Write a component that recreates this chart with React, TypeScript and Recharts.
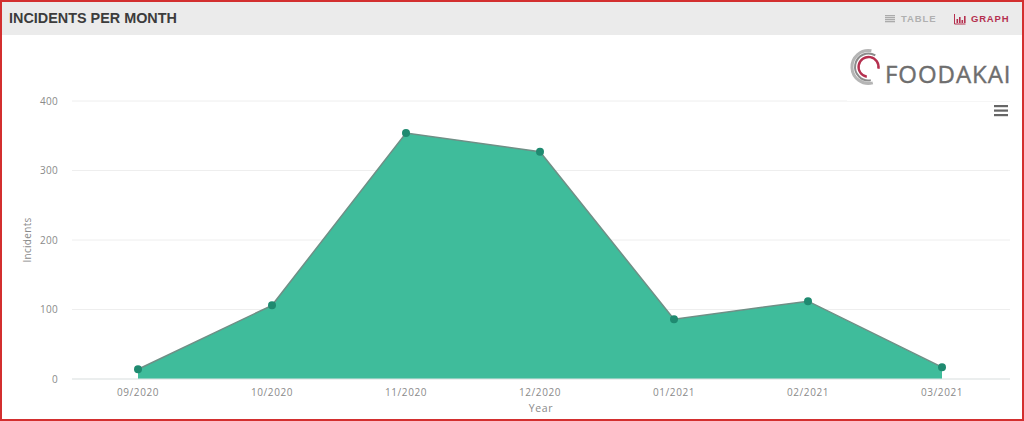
import { Area, AreaChart, CartesianGrid, XAxis, YAxis } from "recharts";

const months = ["09/2020", "10/2020", "11/2020", "12/2020", "01/2021", "02/2021", "03/2021"];
const incidents = [14, 106, 354, 327, 86, 112, 17];
const yTicks = [0, 100, 200, 300, 400];

const chartData = months.map((month, i) => ({ month, incidents: incidents[i] }));

const tickStyle = { fontFamily: "'Open Sans', sans-serif", fontSize: 10, fill: "#8a8a8a", letterSpacing: 0.6 };
const headerFont = "'Liberation Sans', Arial, sans-serif";

function Header() {
  return (
    <div style={{ position: "absolute", left: 0, top: 0, width: 1024, height: 35, background: "#ebebeb" }}>
      <span
        style={{
          position: "absolute",
          left: 9,
          top: 10,
          fontFamily: headerFont,
          fontWeight: 700,
          fontSize: 14.4,
          lineHeight: "17px",
          color: "#3c3c3c",
        }}
      >
        INCIDENTS PER MONTH
      </span>
      <svg style={{ position: "absolute", left: 885, top: 15 }} width={11} height={9}>
        {[0, 2, 4, 6].map((y) => (
          <rect key={y} x={0} y={y} width={10} height={1.3} fill="#ababab" />
        ))}
      </svg>
      <span
        style={{
          position: "absolute",
          left: 901,
          top: 13,
          fontFamily: headerFont,
          fontWeight: 700,
          fontSize: 9.5,
          lineHeight: "12px",
          letterSpacing: 0.9,
          color: "#b0b0b0",
        }}
      >
        TABLE
      </span>
      <svg style={{ position: "absolute", left: 954, top: 14 }} width={12} height={11}>
        <path d="M0.5 0V10H11.5" stroke="#b5304f" fill="none" strokeWidth={1} />
        <rect x={2.5} y={5} width={1.6} height={4} fill="#b5304f" />
        <rect x={5} y={3} width={1.6} height={6} fill="#b5304f" />
        <rect x={7.5} y={6} width={1.6} height={3} fill="#b5304f" />
        <rect x={10} y={2} width={1.6} height={7} fill="#b5304f" />
      </svg>
      <span
        style={{
          position: "absolute",
          left: 971,
          top: 13,
          fontFamily: headerFont,
          fontWeight: 700,
          fontSize: 9.5,
          lineHeight: "12px",
          letterSpacing: 0.8,
          color: "#b5304f",
        }}
      >
        GRAPH
      </span>
    </div>
  );
}

function Logo() {
  return (
    <div style={{ position: "absolute", left: 847, top: 42, width: 170, height: 59, background: "#fff" }}>
      <svg style={{ position: "absolute", left: 3, top: -0.5 }} width={50} height={50}>
        <path d="M22.8 40.9 A16.5 16.5 0 1 1 21.4 8.75" stroke="#b5b5b5" fill="none" strokeWidth={3} />
        <path d="M20.8 38.3 A13.5 13.5 0 1 1 25.3 13.3" stroke="#8c8c8c" fill="none" strokeWidth={2} />
        <path d="M16.8 34.8 A10 10 0 1 1 28.4 26.7" stroke="#b5304f" fill="none" strokeWidth={2.4} />
      </svg>
      <span
        style={{
          position: "absolute",
          left: 38,
          top: 17,
          fontFamily: "'Open Sans', sans-serif",
          fontWeight: 500,
          fontSize: 24,
          lineHeight: "30px",
          letterSpacing: 0.95,
          WebkitTextStroke: "0.4px #6e6e6e",
          color: "#6e6e6e",
        }}
      >
        FOODAKAI
      </span>
    </div>
  );
}

function MenuIcon() {
  return (
    <svg style={{ position: "absolute", left: 994, top: 105 }} width={15} height={12}>
      {[0, 4.5, 9].map((y) => (
        <rect key={y} x={0} y={y} width={14} height={2.2} fill="#666" />
      ))}
    </svg>
  );
}

export default function App() {
  return (
    <div style={{ position: "absolute", left: 0, top: 0, width: 1024, height: 421, background: "#fff", overflow: "hidden" }}>
      <AreaChart width={1024} height={421} data={chartData} margin={{ top: 101, right: 14, bottom: 0, left: 0 }}>
        <CartesianGrid vertical={false} stroke="#eeeeee" />
        <XAxis
          dataKey="month"
          height={42}
          padding={{ left: 66, right: 68 }}
          axisLine={{ stroke: "#dfe5e5" }}
          tickLine={false}
          tick={tickStyle}
          tickMargin={4}
          label={{ value: "Year", position: "insideBottom", offset: 9, style: { ...tickStyle, fontSize: 10.5 } }}
        />
        <YAxis
          width={72}
          domain={[0, 400]}
          ticks={yTicks}
          axisLine={false}
          tickLine={false}
          tick={{ ...tickStyle, letterSpacing: 0.3 }}
          tickMargin={8}
          label={{
            value: "Incidents",
            angle: -90,
            position: "insideLeft",
            offset: 27,
            style: { ...tickStyle, fontSize: 10, letterSpacing: 0.3, textAnchor: "middle" },
          }}
        />
        <Area
          type="linear"
          dataKey="incidents"
          stroke="#6f8f86"
          strokeWidth={1.5}
          fill="#3fbc9b"
          fillOpacity={1}
          dot={{ r: 4, fill: "#1f8a70", stroke: "#1f8a70", strokeWidth: 0, fillOpacity: 1 }}
          isAnimationActive={false}
        />
      </AreaChart>
      <Header />
      <Logo />
      <MenuIcon />
      <div style={{ position: "absolute", left: 0, top: 0, width: 1024, height: 421, boxSizing: "border-box", border: "2px solid #d32f2f", pointerEvents: "none" }} />
    </div>
  );
}
